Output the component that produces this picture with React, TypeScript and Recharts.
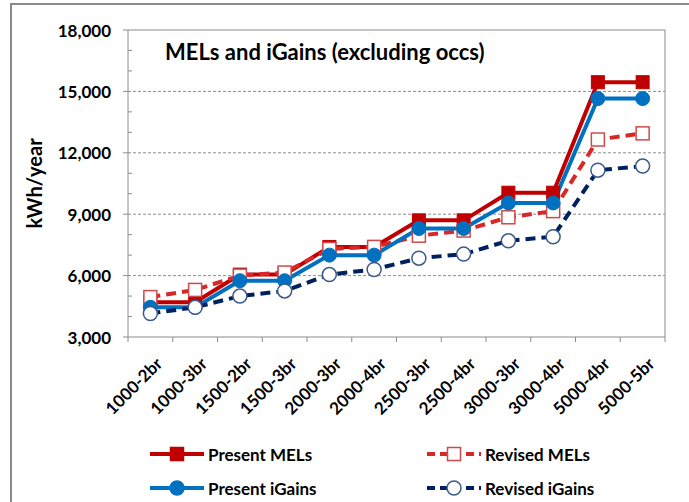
import React from 'react';
import { LineChart, Line, XAxis, YAxis, ReferenceLine, Legend, Label } from 'recharts';

const categories = [
  '1000-2br', '1000-3br', '1500-2br', '1500-3br', '2000-3br', '2000-4br',
  '2500-3br', '2500-4br', '3000-3br', '3000-4br', '5000-4br', '5000-5br',
];
const presentMELs = [4700, 4700, 6050, 6050, 7400, 7400, 8700, 8700, 10050, 10050, 15450, 15450];
const revisedMELs = [4950, 5300, 6000, 6150, 7300, 7400, 7950, 8200, 8850, 9150, 12650, 12950];
const presentIGains = [4450, 4450, 5750, 5750, 7000, 7000, 8300, 8300, 9550, 9550, 14650, 14650];
const revisedIGains = [4150, 4450, 5000, 5250, 6050, 6300, 6850, 7050, 7700, 7900, 11150, 11350];

// every 1000 gets a minor tick, every 3000 a label
const yTicks = [3000, 4000, 5000, 6000, 7000, 8000, 9000, 10000, 11000, 12000, 13000, 14000, 15000, 16000, 17000, 18000];
const gridValues = [6000, 9000, 12000, 15000];

const data = categories.map((name, i) => ({
  name,
  presentMELs: presentMELs[i],
  revisedMELs: revisedMELs[i],
  presentIGains: presentIGains[i],
  revisedIGains: revisedIGains[i],
}));

const RED = '#C00000';
const RED_DASH = '#D92626';
const RED_OPEN = '#CF4A4A';
const BLUE = '#0070C0';
const NAVY = '#002060';
const NAVY_OPEN = '#3D5A8C';
const AXIS = '#8C8C8C';
const FONT = 'Lato, "Open Sans", sans-serif';

const squareDot = (fill: string, stroke: string, sw: number) => (p: any) => {
  if (p.cx == null || p.cy == null) return <g key={`sq-${p.index}`} />;
  return (
    <rect key={`sq-${p.index}`} x={p.cx - 6.5} y={p.cy - 6.5} width={13} height={13}
      fill={fill} stroke={stroke} strokeWidth={sw} />
  );
};

const circleDot = (fill: string, stroke: string, sw: number) => (p: any) => {
  if (p.cx == null || p.cy == null) return <g key={`ci-${p.index}`} />;
  return <circle key={`ci-${p.index}`} cx={p.cx} cy={p.cy} r={7} fill={fill} stroke={stroke} strokeWidth={sw} />;
};

const YTick = (props: any) => {
  const { x, y, payload } = props;
  const major = payload.value % 3000 === 0;
  if (!major) {
    return <line x1={x} x2={x + 4} y1={y} y2={y} stroke={AXIS} />;
  }
  return (
    <g>
      <line x1={x - 5} x2={x} y1={y} y2={y} stroke={AXIS} />
      <text x={x - 17} y={y} textAnchor="end" dominantBaseline="central"
        fontFamily={FONT} fontWeight={700} fontSize={17} fill="#000">
        {payload.value.toLocaleString('en-US')}
      </text>
    </g>
  );
};

const XTick = (props: any) => {
  const { x, y, payload, index, width, visibleTicksCount } = props;
  const half = payload.offset || (width && visibleTicksCount ? width / visibleTicksCount / 2 : 22.4);
  const tx = x + 13;
  const ty = y + 28;
  return (
    <g>
      <line x1={x - half} x2={x - half} y1={y} y2={y + 5} stroke={AXIS} />
      {index === categories.length - 1 && (
        <line x1={x + half} x2={x + half} y1={y} y2={y + 5} stroke={AXIS} />
      )}
      <text x={tx} y={ty} transform={`rotate(-45, ${tx}, ${ty})`} textAnchor="end"
        fontFamily={FONT} fontWeight={700} fontSize={17} fill="#000">
        {payload.value}
      </text>
    </g>
  );
};

const legendItems = [
  { label: 'Present MELs', color: RED, dash: undefined, marker: 'square', fill: RED, stroke: RED, col: 0, row: 0 },
  { label: 'Revised MELs', color: RED_DASH, dash: '8 5', marker: 'square', fill: '#fff', stroke: RED_OPEN, col: 1, row: 0 },
  { label: 'Present iGains', color: BLUE, dash: undefined, marker: 'circle', fill: BLUE, stroke: BLUE, col: 0, row: 1 },
  { label: 'Revised iGains', color: NAVY, dash: '8 5', marker: 'circle', fill: '#fff', stroke: NAVY_OPEN, col: 1, row: 1 },
];

const renderLegend = () => (
  <div style={{ position: 'relative', width: 689, height: 66 }}>
    {legendItems.map((it) => {
      const left = it.col === 0 ? 150 : 427;
      const top = it.row === 0 ? 8 : 42;
      return (
        <div key={it.label} style={{ position: 'absolute', left, top, height: 20, display: 'flex', alignItems: 'center' }}>
          <svg width={55} height={20}>
            <line x1={0} x2={54} y1={10} y2={10} stroke={it.color} strokeWidth={4} strokeDasharray={it.dash} />
            {it.marker === 'square' ? (
              <rect x={20.5} y={3.5} width={13} height={13} fill={it.fill} stroke={it.stroke} strokeWidth={1.5} />
            ) : (
              <circle cx={27} cy={10} r={7} fill={it.fill} stroke={it.stroke} strokeWidth={1.5} />
            )}
          </svg>
          <span style={{ marginLeft: 3, fontFamily: FONT, fontWeight: 700, fontSize: 17, color: '#000', whiteSpace: 'nowrap' }}>
            {it.label}
          </span>
        </div>
      );
    })}
  </div>
);

export default function App() {
  return (
    <div style={{ position: 'relative', width: 689, height: 502, overflow: 'hidden', background: '#fff' }}>
      <style>{'body{margin:0;}'}</style>
      <div style={{ position: 'absolute', left: 10, top: 3, width: 700, height: 520, borderLeft: '2px solid #8A8A8A', borderTop: '2px solid #8A8A8A' }} />
      <LineChart width={689} height={502} data={data} margin={{ top: 30, right: 23, bottom: 0, left: 0 }}>
        <XAxis dataKey="name" scale="band" interval={0} height={99} tickSize={0} tickMargin={0}
          tickLine={false} axisLine={{ stroke: AXIS }} tick={<XTick />} />
        <YAxis domain={[3000, 18000]} ticks={yTicks} interval={0} width={128} tickSize={0} tickMargin={0}
          tickLine={false} axisLine={{ stroke: AXIS }} tick={<YTick />} allowDataOverflow>
          <Label
            content={(p: any) => {
              const vb = p.viewBox || { x: 0, y: 30, width: 128, height: 307 };
              const lx = vb.x + 34;
              const ly = vb.y + vb.height / 2;
              return (
                <text x={lx} y={ly} transform={`rotate(-90, ${lx}, ${ly})`} textAnchor="middle"
                  dominantBaseline="central" fontFamily={FONT} fontWeight={700} fontSize={20} fill="#000">
                  kWh/year
                </text>
              );
            }}
          />
        </YAxis>
        <YAxis yAxisId="r" orientation="right" width={1} domain={[3000, 18000]} tick={false} tickLine={false}
          axisLine={{ stroke: AXIS }} />
        {gridValues.map((v) => (
          <ReferenceLine key={v} y={v} stroke={AXIS} strokeDasharray="3 2" />
        ))}
        <ReferenceLine y={18000} stroke={AXIS} />
        <Legend verticalAlign="bottom" content={renderLegend} />
        <Line dataKey="presentMELs" stroke={RED} strokeWidth={4} dot={squareDot(RED, RED, 1)}
          activeDot={false} isAnimationActive={false} />
        <Line dataKey="revisedMELs" stroke={RED_DASH} strokeWidth={4} strokeDasharray="10 6"
          dot={squareDot('#fff', RED_OPEN, 1.5)} activeDot={false} isAnimationActive={false} />
        <Line dataKey="presentIGains" stroke={BLUE} strokeWidth={4} dot={circleDot(BLUE, BLUE, 1)}
          activeDot={false} isAnimationActive={false} />
        <Line dataKey="revisedIGains" stroke={NAVY} strokeWidth={4} strokeDasharray="10 6"
          dot={circleDot('#fff', NAVY_OPEN, 1.5)} activeDot={false} isAnimationActive={false} />
      </LineChart>
      <div style={{ position: 'absolute', left: 165, top: 38, fontFamily: FONT, fontWeight: 700, fontSize: 22, lineHeight: '28px', color: '#000', whiteSpace: 'nowrap' }}>
        MELs and iGains (excluding occs)
      </div>
    </div>
  );
}
